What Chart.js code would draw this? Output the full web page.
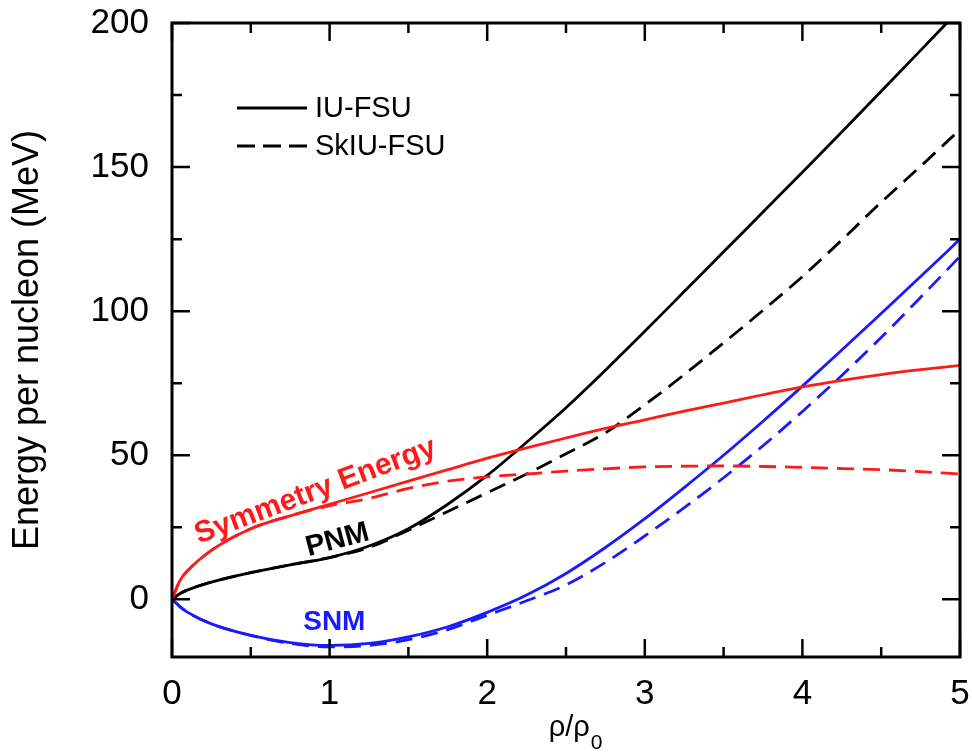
<!DOCTYPE html>
<html>
<head>
<meta charset="utf-8">
<script src="https://cdn.jsdelivr.net/npm/chart.js@4.4.0/dist/chart.umd.min.js"></script>
<style>
  html, body { margin: 0; padding: 0; background: #fff; }
  #wrap { width: 972px; height: 752px; }
</style>
</head>
<body>
<div id="wrap"><canvas id="eosChart" width="972" height="752"></canvas></div>
<script>
// density grid, rho / rho0
const rho = [0, 0.05, 0.1, 0.25, 0.5, 0.75, 1, 1.25, 1.5, 1.75, 2, 2.25, 2.5, 2.75, 3, 3.25, 3.5, 3.75, 4, 4.25, 4.5, 4.75, 5];

// energy per nucleon (MeV)
const esymIU   = [0, 6.5, 10, 17, 24.5, 29, 33, 37, 41, 45, 49, 52.6, 56, 59.3, 62.3, 65.3, 68.1, 71, 73.7, 76, 78, 79.7, 81.2];
const esymSkIU = [0, 6.5, 10, 17, 24.5, 29, 32.5, 35, 38.5, 41, 42.5, 43.5, 44.5, 45.3, 46, 46.2, 46.3, 46.1, 45.8, 45.4, 45, 44.3, 43.5];
const pnmIU    = [0, 2, 3.3, 6, 9.3, 12, 14.5, 18.5, 24.5, 33, 43, 54.5, 66.5, 79.5, 93, 106.8, 120.6, 134.4, 148.2, 162.2, 176.3, 190.5, 204.8];
const pnmSkIU  = [0, 2, 3.3, 6, 9.3, 12, 14.5, 18, 24, 30.5, 37, 43.5, 50.5, 57.8, 67.5, 78, 89, 100.3, 112, 124.7, 137.8, 150.3, 163];
const snmIU    = [0, -2.5, -4.5, -8.5, -12.5, -15, -16, -15.3, -13, -9.5, -4.5, 1.5, 9, 18, 28, 38.8, 50, 61.8, 74, 86.5, 99.2, 112, 125];
const snmSkIU  = [0, -2.5, -4.5, -8.5, -12.5, -15.3, -16.5, -16, -14, -10.5, -5.5, -0.5, 5, 12.8, 22, 31.8, 42.2, 53.3, 65.2, 77.7, 90.9, 104.8, 119];

const xTicks = [0, 1, 2, 3, 4, 5];
const xMinor = [0.5, 1.5, 2.5, 3.5, 4.5];
const yTicks = [0, 50, 100, 150, 200];
const yMinor = [25, 75, 125, 175];

const legendNames = ['IU-FSU', 'SkIU-FSU'];

const RED = '#ff1a1a', BLUE = '#1a1aff', BLACK = '#000000';
const DASH = [17, 9];
const FONT = "'Liberation Sans', Arial, Helvetica, sans-serif";

function pts(ys) {
  return rho.map((x, i) => ({ x: x, y: ys[i] }));
}

function line(label, ys, color, dashed) {
  return {
    label: label,
    data: pts(ys),
    borderColor: color,
    borderWidth: 2.8,
    borderDash: dashed ? DASH : [],
    pointRadius: 0,
    fill: false,
    cubicInterpolationMode: 'monotone'
  };
}

// no extra room for overhanging tick labels, the frame is placed by layout padding
function noOverhang(s) {
  s.paddingTop = 0; s.paddingBottom = 0;
  s.paddingLeft = 0; s.paddingRight = 0;
}

// frame, inward ticks, legend, curve labels and x-axis title
const decorations = {
  id: 'decorations',
  afterDatasetsDraw(chart) {
    const { ctx, chartArea: a, scales: { x, y } } = chart;
    ctx.save();

    ctx.strokeStyle = '#000';
    ctx.lineWidth = 3;
    ctx.strokeRect(a.left, a.top, a.right - a.left, a.bottom - a.top);

    ctx.lineWidth = 2.5;
    ctx.beginPath();
    const tickX = (v, len) => {
      const px = x.getPixelForValue(v);
      ctx.moveTo(px, a.bottom); ctx.lineTo(px, a.bottom - len);
      ctx.moveTo(px, a.top);    ctx.lineTo(px, a.top + len);
    };
    const tickY = (v, len) => {
      const py = y.getPixelForValue(v);
      ctx.moveTo(a.left, py);  ctx.lineTo(a.left + len, py);
      ctx.moveTo(a.right, py); ctx.lineTo(a.right - len, py);
    };
    xTicks.forEach(v => tickX(v, 18));
    xMinor.forEach(v => tickX(v, 10));
    yTicks.forEach(v => tickY(v, 18));
    yMinor.forEach(v => tickY(v, 10));
    ctx.stroke();

    // legend
    const lx0 = a.left + 65, lx1 = a.left + 135;
    const ly = [a.top + 85, a.top + 123];
    ctx.strokeStyle = '#000';
    ctx.lineWidth = 3;
    legendNames.forEach((name, i) => {
      ctx.setLineDash(i === 0 ? [] : [18, 8]);
      ctx.beginPath();
      ctx.moveTo(lx0, ly[i]); ctx.lineTo(lx1, ly[i]);
      ctx.stroke();
      ctx.setLineDash([]);
      ctx.fillStyle = '#000';
      ctx.font = '29px ' + FONT;
      ctx.textAlign = 'left';
      ctx.textBaseline = 'middle';
      ctx.fillText(name, lx1 + 8, ly[i] + 1);
    });

    // curve labels
    const labels = [
      { text: 'Symmetry Energy', at: [0.91, 37.5], angle: -20.5, color: RED, size: 30 },
      { text: 'PNM', at: [1.05, 20.5], angle: -15, color: BLACK, size: 29 },
      { text: 'SNM', at: [1.03, -8], angle: 0, color: BLUE, size: 28 }
    ];
    labels.forEach(l => {
      ctx.save();
      ctx.translate(x.getPixelForValue(l.at[0]), y.getPixelForValue(l.at[1]));
      ctx.rotate(l.angle * Math.PI / 180);
      ctx.font = 'bold ' + l.size + 'px ' + FONT;
      ctx.fillStyle = l.color;
      ctx.textAlign = 'center';
      ctx.textBaseline = 'middle';
      ctx.fillText(l.text, 0, 0);
      ctx.restore();
    });

    // x-axis title rho/rho0 with subscript
    ctx.fillStyle = '#000';
    ctx.textBaseline = 'alphabetic';
    ctx.textAlign = 'left';
    const main = '\u03c1/\u03c1';
    ctx.font = '29px ' + FONT;
    const wMain = ctx.measureText(main).width;
    ctx.font = '21px ' + FONT;
    const wSub = ctx.measureText('0').width;
    const cx = (a.left + a.right) / 2 + 9;
    const start = cx - (wMain + wSub) / 2;
    ctx.font = '29px ' + FONT;
    ctx.fillText(main, start, 736);
    ctx.font = '21px ' + FONT;
    ctx.fillText('0', start + wMain + 1, 749);

    ctx.restore();
  }
};

new Chart(document.getElementById('eosChart'), {
  type: 'line',
  data: {
    datasets: [
      line('Symmetry Energy IU-FSU', esymIU, RED, false),
      line('Symmetry Energy SkIU-FSU', esymSkIU, RED, true),
      line('PNM IU-FSU', pnmIU, BLACK, false),
      line('PNM SkIU-FSU', pnmSkIU, BLACK, true),
      line('SNM IU-FSU', snmIU, BLUE, false),
      line('SNM SkIU-FSU', snmSkIU, BLUE, true)
    ]
  },
  options: {
    responsive: false,
    animation: false,
    layout: { padding: { left: 0, top: 23, right: 12, bottom: 0 } },
    plugins: {
      legend: { display: false },
      tooltip: { enabled: false }
    },
    scales: {
      x: {
        type: 'linear',
        min: 0,
        max: 5,
        afterBuildTicks: s => { s.ticks = xTicks.map(v => ({ value: v })); },
        afterFit: s => { s.height = 95; noOverhang(s); },
        grid: { display: false, drawTicks: false },
        border: { display: false },
        ticks: { color: '#000', font: { size: 35, family: FONT }, padding: 16, maxRotation: 0 }
      },
      y: {
        type: 'linear',
        min: -20,
        max: 200,
        afterBuildTicks: s => { s.ticks = yTicks.map(v => ({ value: v })); },
        afterFit: s => { s.width = 172; noOverhang(s); },
        grid: { display: false, drawTicks: false },
        border: { display: false },
        ticks: { color: '#000', font: { size: 35, family: FONT }, padding: 23 },
        title: {
          display: true,
          text: 'Energy per nucleon (MeV)',
          color: '#000',
          font: { size: 36, family: FONT },
          padding: { top: 6, bottom: 0 }
        }
      }
    }
  },
  plugins: [decorations]
});
</script>
</body>
</html>
